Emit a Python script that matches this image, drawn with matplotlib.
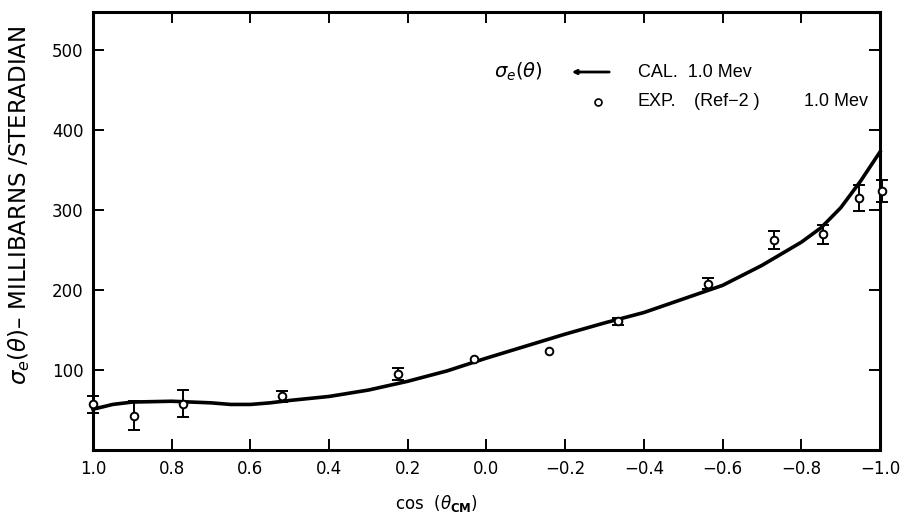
from matplotlib.pyplot import figure  # type: ignore
import numpy as np

# calculated curve
CAL_COS = [1.0, 0.95, 0.9, 0.8, 0.7, 0.65, 0.6, 0.55, 0.5, 0.4, 0.3, 0.2, 0.1,
           0.0, -0.1, -0.2, -0.3, -0.4, -0.5, -0.6, -0.7, -0.8, -0.85, -0.9,
           -0.95, -1.0]
CAL_SIGMA = [51, 57, 60, 61, 59, 57, 57, 59, 62, 67, 75, 86, 99,
             115, 130, 145, 159, 172, 189, 206, 231, 260, 278, 303,
             336, 373]

# experimental points (Ref-2)
EXP_COS = [1.0, 0.896, 0.771, 0.52, 0.225, 0.032, -0.159, -0.334, -0.562,
           -0.730, -0.856, -0.947, -1.005]
EXP_SIGMA = [57, 43, 58, 67, 95, 114, 124, 161, 208, 263, 270, 315, 324]
EXP_ERR = [11, 18, 17, 7, 8, 0, 0, 4, 7, 11, 12, 16, 14]

X_TICKS = [1.0, 0.8, 0.6, 0.4, 0.2, 0.0, -0.2, -0.4, -0.6, -0.8, -1.0]
X_TICK_LABELS = ["1.0", "0.8", "0.6", "0.4", "0.2", "0.0",
                 "\u22120.2", "\u22120.4", "\u22120.6", "\u22120.8", "\u22121.0"]
Y_TICKS = [100, 200, 300, 400, 500]

FONT = "DejaVu Sans"
LEGEND_FONT = "Liberation Sans"


def ax_x(px):
    # pixel column of the reference -> axes fraction
    return (px - 93) / 787


def draw(filename="out.png"):
    fig = figure(figsize=(9.01, 5.13), dpi=100)
    ax = fig.add_axes([0.1032, 0.1228, 0.8735, 0.8538])

    ax.plot(CAL_COS, CAL_SIGMA, "-", color="black", linewidth=2.6,
            clip_on=False, zorder=3)

    # error bars only where the drawing shows them
    cos = np.array(EXP_COS)
    sig = np.array(EXP_SIGMA)
    err = np.array(EXP_ERR)
    has_err = err > 0
    ax.errorbar(cos[has_err], sig[has_err], yerr=err[has_err], fmt="none",
                ecolor="black", elinewidth=1.4, capsize=4, capthick=1.4,
                clip_on=False, zorder=4)
    ax.plot(cos, sig, "o", markersize=5.5, markerfacecolor="white",
            markeredgecolor="black", markeredgewidth=1.4, clip_on=False,
            zorder=5)

    ax.set_xlim(1.0, -1.0)
    ax.set_ylim(0, 548)
    ax.set_xticks(X_TICKS)
    ax.set_xticklabels(X_TICK_LABELS, fontsize=12, family=FONT)
    ax.set_yticks(Y_TICKS)
    ax.set_yticklabels([str(v) for v in Y_TICKS], fontsize=12, family=FONT)
    ax.tick_params(direction="in", length=8, width=1.4, top=True, right=True,
                   pad=7)
    for side in ax.spines.values():
        side.set_linewidth(2.2)

    # legend drawn by hand, like the original lettering
    y1, y2 = 0.863, 0.795
    ax.text(ax_x(494), y1, r"$\sigma_e(\theta)$", transform=ax.transAxes,
            fontsize=14, va="center", ha="left")
    ax.annotate("", xy=(ax_x(569), y1), xytext=(ax_x(612), y1),
                xycoords="axes fraction",
                arrowprops=dict(arrowstyle="-|>", color="black", lw=2,
                                mutation_scale=6))
    ax.text(ax_x(638), y1, "CAL.  1.0 Mev", transform=ax.transAxes,
            fontsize=13, va="center", ha="left", family=LEGEND_FONT)
    ax.plot([ax_x(598)], [y2], "o", markersize=5, markerfacecolor="white",
            markeredgecolor="black", markeredgewidth=1.2,
            transform=ax.transAxes)
    ax.text(ax_x(638), y2, "EXP.", transform=ax.transAxes,
            fontsize=13, va="center", ha="left", family=LEGEND_FONT)
    ax.text(ax_x(694), y2, "(Ref\u22122 )", transform=ax.transAxes,
            fontsize=13, va="center", ha="left", family=LEGEND_FONT)
    ax.text(ax_x(804), y2, "1.0 Mev", transform=ax.transAxes,
            fontsize=13, va="center", ha="left", family=LEGEND_FONT)

    fig.text(436 / 901, 1 - 503 / 513, r"cos  ($\theta_{\mathbf{CM}}$)",
             fontsize=12, ha="center", va="center", family=FONT)
    fig.text(19 / 901, 1 - 205 / 513,
             r"$\sigma_e(\theta)$" + "\u2013 MILLIBARNS /STERADIAN",
             fontsize=16.5, rotation=90, ha="center", va="center",
             family=FONT)

    fig.savefig(filename, dpi=100)


draw()
